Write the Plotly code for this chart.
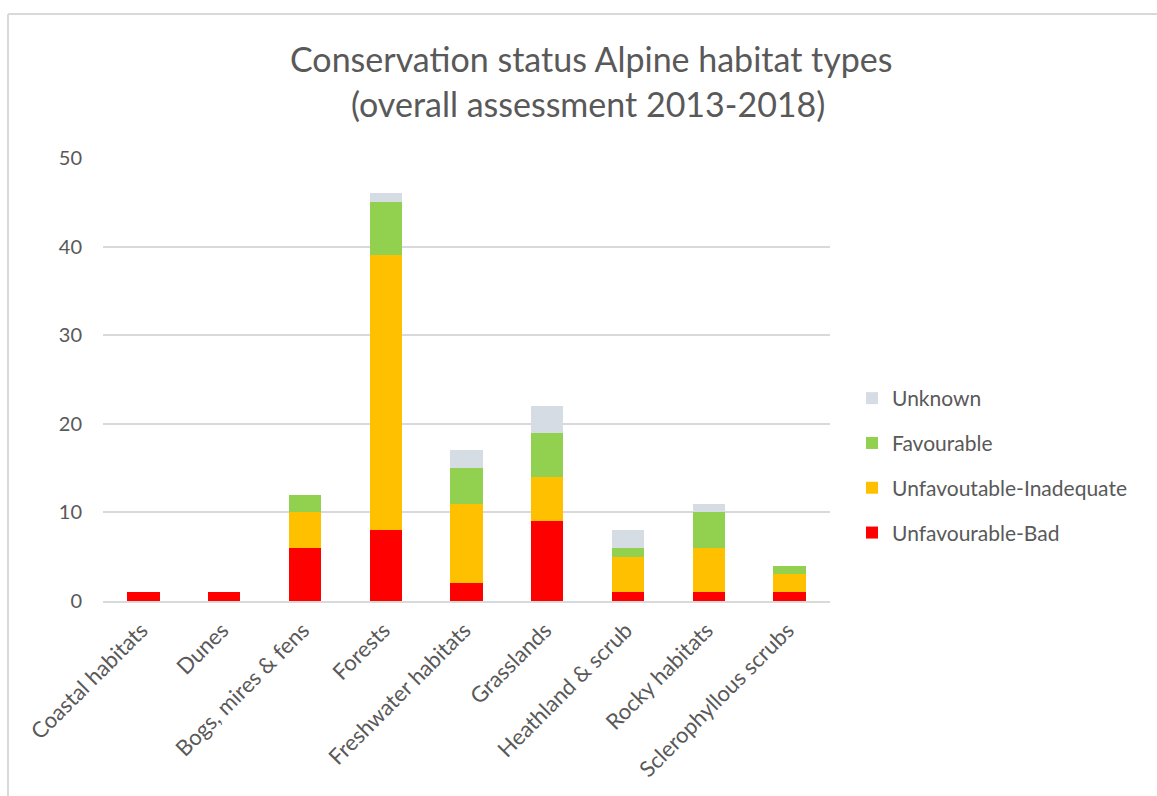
import plotly.graph_objects as go

categories = ["Coastal habitats", "Dunes", "Bogs, mires & fens", "Forests",
              "Freshwater habitats", "Grasslands", "Heathland & scrub",
              "Rocky habitats", "Sclerophyllous scrubs"]
bad = [1, 1, 6, 8, 2, 9, 1, 1, 1]
inadequate = [0, 0, 4, 31, 9, 5, 4, 5, 2]
favourable = [0, 0, 2, 6, 4, 5, 1, 4, 1]
unknown = [0, 0, 0, 1, 2, 3, 2, 1, 0]
title_lines = ["Conservation status Alpine habitat types",
               "(overall assessment 2013-2018)"]

series = [
    ("Unfavourable-Bad", bad, "#FF0000", 4),
    ("Unfavoutable-Inadequate", inadequate, "#FFC000", 3),
    ("Favourable", favourable, "#92D050", 2),
    ("Unknown", unknown, "#D6DCE4", 1),
]

FONT = "Lato"
GREY = "#595959"

fig = go.Figure()
for name, vals, col, rank in series:
    fig.add_trace(go.Bar(x=categories, y=vals, name=name, marker_color=col,
                         marker_line_width=0, width=0.4, legendgroup=name,
                         legendrank=rank))

W, H = 1157, 796
L, R, T, B = 103, 830, 158, 601
pw, ph = R - L, B - T

def px2x(px):
    return (px - L) / pw

def py2y(py):
    return (B - py) / ph

annotations = [
    dict(text=title_lines[0], xref="paper", yref="paper", x=px2x(591), y=py2y(58),
         xanchor="center", yanchor="middle", showarrow=False,
         font=dict(size=34, color=GREY, family=FONT)),
    dict(text=title_lines[1], xref="paper", yref="paper", x=px2x(588), y=py2y(103),
         xanchor="center", yanchor="middle", showarrow=False,
         font=dict(size=34, color=GREY, family=FONT)),
]

fig.update_layout(
    width=W, height=H,
    margin=dict(l=L, r=W - R, t=T, b=H - B),
    barmode="stack",
    paper_bgcolor="white", plot_bgcolor="white",
    font=dict(family=FONT, color=GREY, size=20),
    annotations=annotations,
    xaxis=dict(tickangle=-45, tickfont=dict(size=22, color=GREY), showgrid=False,
               showline=True, linecolor="#d9d9d9", linewidth=1.5, ticks="",
               ticklabelshift=-2, ticklabelstandoff=6),
    yaxis=dict(range=[0, 50], dtick=10, tickfont=dict(size=20, color=GREY),
               showgrid=True, gridcolor="#d9d9d9", gridwidth=1.5, zeroline=False,
               ticks="", ticklabelstandoff=20),
    legend=dict(traceorder="grouped", tracegroupgap=14.5,
                x=px2x(852), xanchor="left", y=py2y(378), yanchor="top",
                font=dict(size=21, color=GREY)),
    showlegend=True,
    shapes=[
        dict(type="line", xref="paper", yref="paper", x0=px2x(8), x1=px2x(1160),
             y0=py2y(14), y1=py2y(14), line=dict(color="#d9d9d9", width=2)),
        dict(type="line", xref="paper", yref="paper", x0=px2x(8), x1=px2x(8),
             y0=py2y(14), y1=py2y(800), line=dict(color="#d9d9d9", width=2)),
    ],
)

fig.write_html("out.html")
